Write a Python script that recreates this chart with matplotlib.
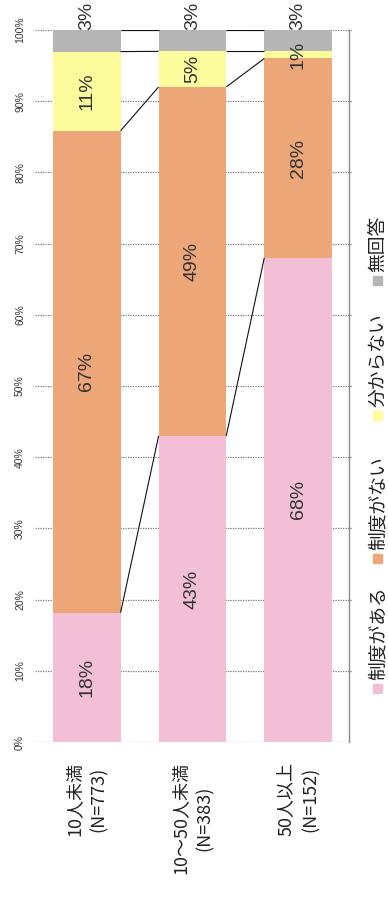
import matplotlib
matplotlib.use("Agg")
import matplotlib.pyplot as plt
import numpy as np

plt.rcParams['font.family'] = ['Noto Sans CJK JP', 'DejaVu Sans']

categories = ["10人未満\n(N=773)", "10～50人未満\n(N=383)", "50人以上\n(N=152)"]
series_names = ["制度がある", "制度がない", "分からない", "無回答"]
has_system = [18, 43, 68]
no_system = [67, 49, 28]
unknown = [11, 5, 1]
no_answer = [3, 3, 3]
colors = ["#F2BFD6", "#ECA678", "#FCFC9C", "#B5B5B5"]
tick_values = [0, 10, 20, 30, 40, 50, 60, 70, 80, 90, 100]

values = np.array([has_system, no_system, unknown, no_answer], dtype=float)
shares = values / values.sum(axis=0) * 100  # 100% stacked

W, H = 388, 907
fig = plt.figure(figsize=(W / 100, H / 100), dpi=100)
ax = fig.add_axes([35 / W, 165 / H, 317 / W, 712 / H])

x = np.arange(len(categories))
width = 0.64
bottoms = np.zeros(len(categories))
tops = []
for k, name in enumerate(series_names):
    ax.bar(x, shares[k], width, bottom=bottoms, color=colors[k],
           label=name, zorder=2, linewidth=0)
    tops.append(bottoms + shares[k])
    # value labels
    for i in range(len(categories)):
        if k == 3:
            ypos = 102.0
        else:
            ypos = bottoms[i] + shares[k][i] / 2
        ax.text(x[i], ypos, f"{int(values[k][i])}%", rotation=90,
                ha="center", va="center", fontsize=14, color="#333333",
                family=["Liberation Sans", "DejaVu Sans"], zorder=4,
                clip_on=False)
    bottoms = bottoms + shares[k]

# series lines between neighbouring bars
for top in tops:
    for i in range(len(categories) - 1):
        ax.plot([x[i] + width / 2, x[i + 1] - width / 2], [top[i], top[i + 1]],
                color="#111111", lw=0.8, zorder=3, solid_capstyle="butt")

ax.set_xlim(-0.49, 2.51)
ax.set_ylim(0, 100)
ax.set_yticks(tick_values)
ax.set_yticklabels([])
ax.tick_params(axis="y", length=0)
ax.set_xticks([])
ax.yaxis.grid(True, color="#777777", linestyle=(0, (1, 1)), lw=0.9, zorder=1)
ax.set_axisbelow(True)
for side in ["left", "top", "bottom"]:
    ax.spines[side].set_visible(False)
ax.spines["right"].set_color("#8a8a8a")
ax.spines["right"].set_linewidth(1.0)
ax.spines["right"].set_position(("data", 2.48))

# rotated percentage tick labels
tick_trans = ax.get_yaxis_transform()
for v in tick_values:
    ax.text(-15 / 317, v, f"{v}%", transform=tick_trans, rotation=90,
            ha="center", va="center", fontsize=7.5, color="#333333",
            family=["Liberation Sans", "DejaVu Sans"], clip_on=False)

# category labels below the bars
for i, cat in enumerate(categories):
    ax.text(x[i], -2.8, cat, rotation=90, ha="center", va="top",
            multialignment="center", fontsize=13, linespacing=1.45,
            color="#222222", clip_on=False)

# legend drawn as rotated entries along the right side
for k, name in enumerate(series_names):
    ys = [693, 563, 420, 285][k]
    fig.patches.append(plt.Rectangle((373 / W, 1 - ys / H), 9 / W, 9 / H,
                                     transform=fig.transFigure, color=colors[k]))
    fig.text(378 / W, 1 - (ys - 13) / H, name, rotation=90, ha="center",
             va="bottom", fontsize=13.5, color="#222222")

fig.savefig("out.png", dpi=100)
